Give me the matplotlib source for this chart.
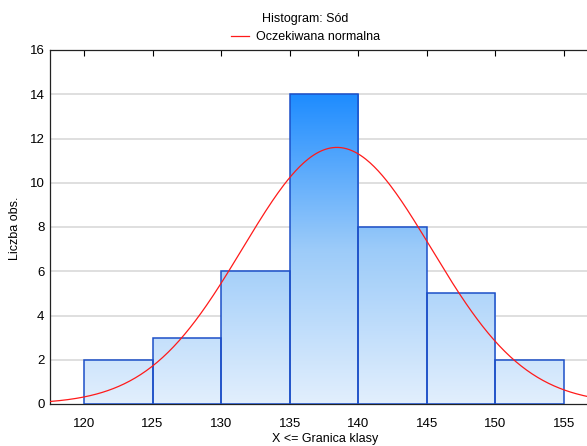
import numpy as np
import matplotlib
matplotlib.use('Agg')
import matplotlib.pyplot as plt
from matplotlib.colors import LinearSegmentedColormap

#---------------------------------------------
#data
#---------------------------------------------
bin_edges = [120, 125, 130, 135, 140, 145, 150, 155]
counts = [2, 3, 6, 14, 8, 5, 2]
fit_mean = 138.45
fit_sd = 6.88
n_obs = sum(counts)
bin_w = 5

title_txt = 'Histogram: Sód'
legend_txt = 'Oczekiwana normalna'
xlabel_txt = 'X <= Granica klasy'
ylabel_txt = 'Liczba obs.'

plt.rcParams['font.family'] = ['Liberation Sans', 'DejaVu Sans']
plt.rcParams['font.size'] = 9

fig = plt.figure(figsize=(5.87, 4.46), dpi=100)
# axes runs a bit past the right border like the original
ax = fig.add_axes([50/587, 1 - 404/446, 548/587, 354/446])

xmin, xmax = 117.52, 157.5

for y in range(2, 16, 2):
	ax.axhline(y, color='#dcdcdc', lw=1.3, zorder=0)

#gradient fill, shared over the whole y range
cmap = LinearSegmentedColormap.from_list('hist', ['#e2effd', '#9ccbf9', '#1e8cff'])
grad = np.linspace(0, 1, 256).reshape(-1, 1)
lefts = bin_edges[:-1]
bars = ax.bar(lefts, counts, width=bin_w, align='edge', facecolor='none',
	edgecolor='#1c4fc8', lw=1.1, zorder=3)
for b in bars:
	im = ax.imshow(grad, cmap=cmap, origin='lower', aspect='auto',
		extent=[xmin, xmax, 0, 14], zorder=2, interpolation='bilinear')
	im.set_clip_path(b)
ax.set_xlim(xmin, xmax)
ax.set_ylim(0, 16)

#expected normal curve
xs = np.linspace(xmin, xmax, 400)
ys = n_obs * bin_w / (fit_sd * np.sqrt(2 * np.pi)) * np.exp(-0.5 * ((xs - fit_mean) / fit_sd) ** 2)
line, = ax.plot(xs, ys, color='#ff1a1a', lw=0.9, zorder=4)

ax.set_xticks(bin_edges)
ax.set_yticks(range(0, 17, 2))
ax.tick_params(axis='x', pad=10, labelsize=9.5)
ax.tick_params(axis='y', length=0, pad=4, labelsize=9.5)
ax.tick_params(axis='x', top=True, bottom=False, direction='in', length=4, width=0.8)
for s in ['left', 'bottom', 'top']:
	ax.spines[s].set_color('#222222')
	ax.spines[s].set_linewidth(0.9)
ax.spines['right'].set_visible(False)

ax.set_xlabel(xlabel_txt, fontsize=9)
ax.xaxis.set_label_coords(325/587, 1 - 439/446, transform=fig.transFigure)
ax.xaxis.label.set_va('center')
ax.set_ylabel(ylabel_txt, fontsize=9)
ax.yaxis.set_label_coords(15/587, 1 - 228/446, transform=fig.transFigure)
ax.yaxis.label.set_va('center')

fig.text(305/587, 1 - 19/446, title_txt, ha='center', va='center', fontsize=9)
fig.legend([line], [legend_txt], loc='center left', bbox_to_anchor=(231/587, 1 - 37/446),
	frameon=False, fontsize=9, handlelength=1.45, handletextpad=0.55, borderpad=0,
	borderaxespad=0)

fig.savefig('out.png', dpi=100)
